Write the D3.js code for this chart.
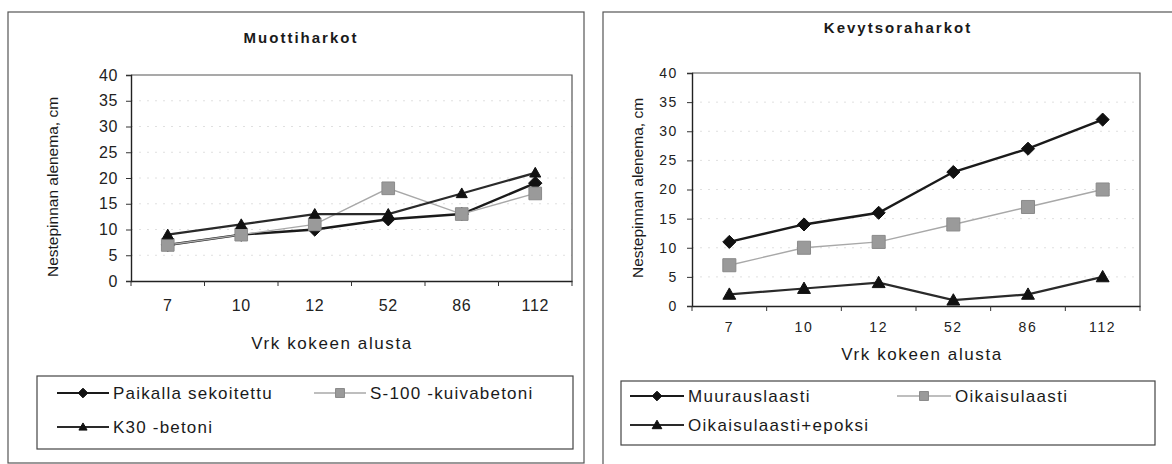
<!DOCTYPE html>
<html>
<head>
<meta charset="utf-8">
<script src="https://cdn.jsdelivr.net/npm/d3@7/dist/d3.min.js"></script>
<style>
  html, body { margin: 0; padding: 0; background: #fff; }
  svg { display: block; font-family: "Liberation Sans", Arial, sans-serif; }
</style>
</head>
<body>
<svg id="chart" width="1172" height="464"></svg>
<script>
// Days from the start of the test (category axis)
const days = ["7", "10", "12", "52", "86", "112"];
const yTicks = [0, 5, 10, 15, 20, 25, 30, 35, 40];

// Muottiharkot: drop of the liquid surface, cm
const paikallaSekoitettu = [7, 9, 10, 12, 13, 19];
const s100Kuivabetoni = [7, 9, 11, 18, 13, 17];
const k30Betoni = [9, 11, 13, 13, 17, 21];

// Kevytsoraharkot: drop of the liquid surface, cm
const muurauslaasti = [11, 14, 16, 23, 27, 32];
const oikaisulaasti = [7, 10, 11, 14, 17, 20];
const oikaisulaastiEpoksi = [2, 3, 4, 1, 2, 5];

const svg = d3.select("#chart");

// Marker shapes: square rotated 45°, upright square, triangle
const diamondType = { draw(ctx, size) { const r = Math.sqrt(size) / 2 * 1.25;
  ctx.moveTo(0, -r); ctx.lineTo(r, 0); ctx.lineTo(0, r); ctx.lineTo(-r, 0); ctx.closePath(); } };
const squareType = { draw(ctx, size) { const r = Math.sqrt(size) / 2;
  ctx.moveTo(-r, -r); ctx.lineTo(r, -r); ctx.lineTo(r, r); ctx.lineTo(-r, r); ctx.closePath(); } };
const triangleType = { draw(ctx, size) { const r = Math.sqrt(size) / 2;
  ctx.moveTo(0, -r * 1.05); ctx.lineTo(r * 1.05, r * 0.8); ctx.lineTo(-r * 1.05, r * 0.8); ctx.closePath(); } };

const styles = {
  diamond: { type: diamondType, fill: "#111", stroke: "#111", line: "#1a1a1a", lw: 2.4 },
  square:  { type: squareType,  fill: "#9a9a9a", stroke: "#8a8a8a", line: "#a8a8a8", lw: 1.4 },
  triangle:{ type: triangleType, fill: "#111", stroke: "#111", line: "#2a2a2a", lw: 2.2 }
};

function drawPanel(cfg) {
  const g = svg.append("g");

  // outer chart frame
  g.append("rect")
    .attr("x", cfg.frame[0]).attr("y", cfg.frame[1])
    .attr("width", cfg.frame[2]).attr("height", cfg.frame[3])
    .attr("fill", "none").attr("stroke", "#555").attr("stroke-width", 1.2);

  const x = d3.scaleBand().domain(days).range([cfg.left, cfg.right]).paddingInner(0).paddingOuter(0);
  const y = d3.scaleLinear().domain([0, 40]).range([cfg.bottom, cfg.top]);
  const cx = d => x(d) + x.bandwidth() / 2;

  // faint dotted gridlines
  g.append("g").selectAll("line").data(yTicks.filter(t => t > 0 && t < 40)).join("line")
    .attr("x1", cfg.left).attr("x2", cfg.right)
    .attr("y1", d => y(d)).attr("y2", d => y(d))
    .attr("stroke", "#e0e0e0").attr("stroke-width", 1).attr("stroke-dasharray", "2,6");

  // plot area border (top, right)
  g.append("path")
    .attr("d", `M${cfg.left},${cfg.top}H${cfg.right}V${cfg.bottom}`)
    .attr("fill", "none").attr("stroke", "#555").attr("stroke-width", 1.2);

  // y axis
  const yAxis = g.append("g").attr("transform", `translate(${cfg.left},0)`)
    .call(d3.axisLeft(y).tickValues(yTicks).tickSize(5).tickPadding(cfg.yPad));
  yAxis.select(".domain").attr("stroke", "#222").attr("stroke-width", 1.4);
  yAxis.selectAll(".tick line").attr("stroke", "#333");
  yAxis.selectAll("text").attr("font-size", cfg.tickSize).attr("fill", "#222")
    .attr("font-family", "Liberation Sans, Arial, sans-serif").attr("letter-spacing", cfg.tickSpacing);

  // x axis with ticks on category boundaries
  const xAxis = g.append("g").attr("transform", `translate(0,${cfg.bottom})`)
    .call(d3.axisBottom(x).tickSize(0).tickPadding(cfg.xPad));
  xAxis.select(".domain").attr("stroke", "#222").attr("stroke-width", 1.4);
  xAxis.selectAll("text").attr("font-size", cfg.tickSize).attr("fill", "#222")
    .attr("font-family", "Liberation Sans, Arial, sans-serif").attr("letter-spacing", cfg.tickSpacing);
  g.append("g").selectAll("line").data(days).join("line")
    .attr("x1", d => x(d) + x.bandwidth()).attr("x2", d => x(d) + x.bandwidth())
    .attr("y1", cfg.bottom).attr("y2", cfg.bottom + 5)
    .attr("stroke", "#333");
  g.append("line").attr("x1", cfg.left).attr("x2", cfg.left)
    .attr("y1", cfg.bottom).attr("y2", cfg.bottom + 5).attr("stroke", "#333");

  // titles
  g.append("text").attr("x", cfg.titleX).attr("y", cfg.titleY)
    .attr("text-anchor", "middle").attr("font-weight", "bold").attr("font-size", 15)
    .attr("letter-spacing", 2).attr("fill", "#1a1a1a").text(cfg.title);
  g.append("text").attr("x", cfg.xTitleX).attr("y", cfg.xTitleY)
    .attr("text-anchor", "middle").attr("font-size", 17).attr("letter-spacing", 1.6)
    .attr("fill", "#1a1a1a").text("Vrk kokeen alusta");
  g.append("text")
    .attr("transform", `translate(${cfg.yTitleX},${cfg.yTitleY}) rotate(-90)`)
    .attr("text-anchor", "middle").attr("font-size", cfg.yTitleSize)
    .attr("fill", "#1a1a1a").text("Nestepinnan alenema, cm");

  // series lines and markers
  const line = d3.line().x((d, i) => cx(days[i])).y(d => y(d));
  cfg.series.forEach(s => {
    const st = styles[s.marker];
    g.append("path").datum(s.values).attr("d", line)
      .attr("fill", "none").attr("stroke", st.line).attr("stroke-width", st.lw);
  });
  cfg.series.forEach(s => {
    const st = styles[s.marker];
    g.append("g").selectAll("path").data(s.values).join("path")
      .attr("transform", (d, i) => `translate(${cx(days[i])},${y(d)})`)
      .attr("d", d3.symbol().type(st.type).size(s.size))
      .attr("fill", st.fill).attr("stroke", st.stroke).attr("stroke-width", 1);
  });

  // legend
  const L = cfg.legend;
  g.append("rect").attr("x", L.x).attr("y", L.y).attr("width", L.w).attr("height", L.h)
    .attr("fill", "none").attr("stroke", "#444").attr("stroke-width", 1.2);
  cfg.series.forEach((s, i) => {
    const st = styles[s.marker];
    const [lx, ly] = L.pos[i];
    const eg = g.append("g").attr("transform", `translate(${lx},${ly})`);
    eg.append("line").attr("x1", 0).attr("x2", L.lineLen).attr("y1", 0).attr("y2", 0)
      .attr("stroke", st.line).attr("stroke-width", s.marker === "square" ? 1.3 : 1.8);
    eg.append("path").attr("transform", `translate(${L.lineLen / 2},0)`)
      .attr("d", d3.symbol().type(st.type).size(s.legendSize))
      .attr("fill", st.fill).attr("stroke", st.stroke);
    eg.append("text").attr("x", L.lineLen + 4).attr("y", 0).attr("dy", "0.35em")
      .attr("font-size", 17).attr("letter-spacing", L.spacing).attr("fill", "#1a1a1a").text(s.name);
  });
}

drawPanel({
  frame: [8, 12, 576, 451],
  left: 131, right: 572, top: 75, bottom: 281,
  yPad: 8, xPad: 19, tickSize: 16, tickSpacing: 0.6,
  title: "Muottiharkot", titleX: 301, titleY: 43,
  xTitleX: 332, xTitleY: 349,
  yTitleX: 58, yTitleY: 187, yTitleSize: 15.5,
  series: [
    { name: "Paikalla sekoitettu", values: paikallaSekoitettu, marker: "diamond", size: 115, legendSize: 60 },
    { name: "S-100 -kuivabetoni", values: s100Kuivabetoni, marker: "square", size: 160, legendSize: 80 },
    { name: "K30 -betoni", values: k30Betoni, marker: "triangle", size: 110, legendSize: 60 }
  ],
  legend: { x: 37, y: 376, w: 536, h: 73, lineLen: 52, spacing: 1.2,
            pos: [[57, 393], [314, 393], [57, 427]] }
});

drawPanel({
  frame: [603, 12, 580, 460],
  left: 692, right: 1140, top: 73, bottom: 306,
  yPad: 9, xPad: 16, tickSize: 14, tickSpacing: 1.6,
  title: "Kevytsoraharkot", titleX: 898, titleY: 33,
  xTitleX: 922, xTitleY: 360,
  yTitleX: 643, yTitleY: 188, yTitleSize: 15.5,
  series: [
    { name: "Muurauslaasti", values: muurauslaasti, marker: "diamond", size: 110, legendSize: 60 },
    { name: "Oikaisulaasti", values: oikaisulaasti, marker: "square", size: 170, legendSize: 80 },
    { name: "Oikaisulaasti+epoksi", values: oikaisulaastiEpoksi, marker: "triangle", size: 150, legendSize: 85 }
  ],
  legend: { x: 621, y: 381, w: 534, h: 64, lineLen: 54, spacing: 1.3,
            pos: [[630, 396], [897, 396], [630, 425]] }
});
</script>
</body>
</html>
